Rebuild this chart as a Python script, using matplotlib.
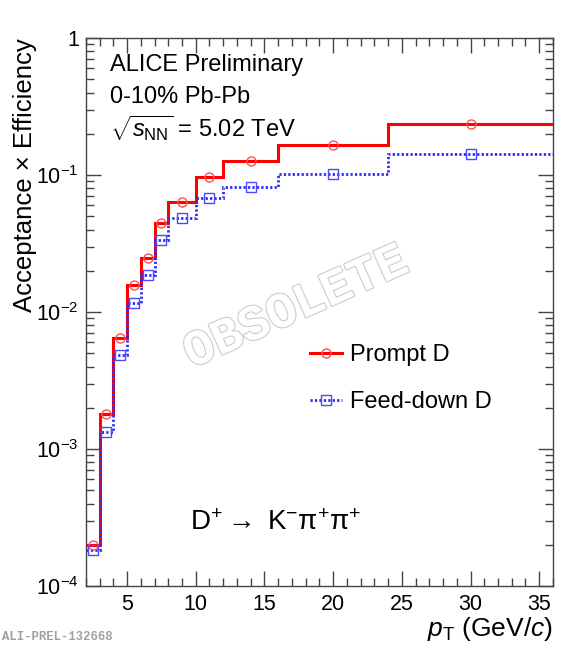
import numpy as np
import matplotlib
matplotlib.use("Agg")
import matplotlib.pyplot as plt
import matplotlib.ticker as mticker
import matplotlib.patheffects as pe
from matplotlib.lines import Line2D

# ---- data ----
pt_edges = [2, 3, 4, 5, 6, 7, 8, 10, 12, 16, 24, 36]
prompt_eff = [2.0e-4, 1.8e-3, 6.5e-3, 0.0157, 0.0248, 0.0446, 0.0636, 0.097, 0.126, 0.167, 0.234]
feeddown_eff = [1.83e-4, 1.34e-3, 4.85e-3, 0.0117, 0.0186, 0.0336, 0.0488, 0.0682, 0.082, 0.101, 0.142]
series_labels = ["Prompt D", "Feed-down D"]
header_lines = ["ALICE Preliminary", "0-10% Pb-Pb", r"$\sqrt{s_{\rm NN}}$ = 5.02 TeV"]

plt.rcParams['font.family'] = ['Liberation Sans', 'DejaVu Sans']
plt.rcParams['mathtext.fontset'] = 'custom'
plt.rcParams['mathtext.rm'] = 'Liberation Sans'
plt.rcParams['mathtext.it'] = 'Liberation Sans:italic'
plt.rcParams['mathtext.bf'] = 'Liberation Sans:bold'

fig = plt.figure(figsize=(5.76, 6.5), dpi=100)
ax = fig.add_axes([0.149, 0.0985, 0.811, 0.843])

edges = np.array(pt_edges, dtype=float)
centers = 0.5 * (edges[:-1] + edges[1:])

red, red_m = '#ff0000', '#ff5050'
blue, blue_m = '#2a2aff', '#4a4aff'

ax.stairs(prompt_eff, edges, baseline=None, color=red, lw=2.2, zorder=3)
ax.plot(centers, prompt_eff, ls='none', marker='o', ms=6.5, mfc='none', mec=red_m, mew=1.0, zorder=4)
ax.stairs(feeddown_eff, edges, baseline=None, color=blue, lw=2.0, ls=(0, (0.8, 0.8)), zorder=3)
ax.plot(centers, feeddown_eff, ls='none', marker='s', ms=6.5, mfc='none', mec=blue_m, mew=1.0, zorder=4)

ax.set_yscale('log')
ax.set_xlim(2, 36)
ax.set_ylim(1e-4, 1)

def yfmt(v, pos):
    e = int(round(np.log10(v)))
    if e == 0:
        return '1'
    return r'$10^{%d}$' % e

ax.yaxis.set_major_locator(mticker.LogLocator(base=10, numticks=10))
ax.yaxis.set_minor_locator(mticker.LogLocator(base=10, subs=np.arange(2, 10), numticks=20))
ax.yaxis.set_major_formatter(mticker.FuncFormatter(yfmt))
ax.yaxis.set_minor_formatter(mticker.NullFormatter())
ax.xaxis.set_major_locator(mticker.MultipleLocator(5))
ax.xaxis.set_minor_locator(mticker.MultipleLocator(1))

ax.tick_params(which='both', direction='in', top=True, right=True, labelsize=15.5, width=1.0, color='#444444')
ax.tick_params(which='major', length=11)
ax.tick_params(which='minor', length=6)
ax.tick_params(axis='x', pad=6)
ax.tick_params(axis='y', pad=5)
for s in ax.spines.values():
    s.set_color('#444444')
    s.set_linewidth(1.0)

ax.set_xlabel(r'$p_{\rm T}$ (GeV/$c$)', fontsize=19, loc='right', labelpad=0)
ax.set_ylabel('Acceptance × Efficiency', fontsize=18.5, loc='top')
ax.yaxis.set_label_coords(-0.104, 1.0)

# header text
ys = [0.95, 0.892, 0.835]
for t, yy in zip(header_lines, ys):
    ax.text(0.051, yy, t, transform=ax.transAxes, fontsize=17, va='center', ha='left')

# legend
h1 = Line2D([], [], color=red, lw=2.2, marker='o', ms=6.5, mfc='none', mec=red_m, mew=1.0)
h2 = Line2D([], [], color=blue, lw=2.0, ls=(0, (0.8, 0.8)), marker='s', ms=6.5, mfc='none', mec=blue_m, mew=1.0)
leg = ax.legend([h1, h2], series_labels, loc='upper left', bbox_to_anchor=(0.445, 0.471),
                frameon=False, fontsize=17, handlelength=1.35, handletextpad=0.35,
                labelspacing=1.05, borderpad=0.2)

# decay channel
ax.text(0.222, 0.115, r'D$^{+}$$\rightarrow$ K$^{-}$π$^{+}$π$^{+}$', transform=ax.transAxes,
        fontsize=20, va='center', ha='left')

# watermark
ax.text(0.45, 0.508, 'OBSOLETE', transform=ax.transAxes, fontsize=36, rotation=24,
        family=['Liberation Mono', 'DejaVu Sans Mono'], fontweight='bold', color='white',
        ha='center', va='center', zorder=1,
        path_effects=[pe.withStroke(linewidth=1.6, foreground='#cccccc')])

fig.text(0.003, 0.01, 'ALI-PREL-132668', fontsize=8.8, color='#a0a0a0',
         family=['Liberation Mono', 'DejaVu Sans Mono'], fontweight='bold', ha='left', va='bottom')

fig.savefig('out.png', dpi=100)
